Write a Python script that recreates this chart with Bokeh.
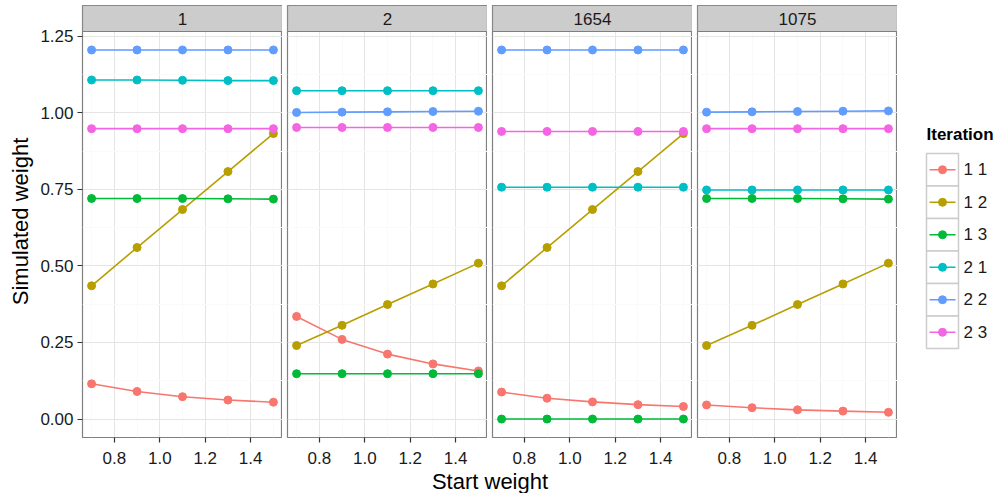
from bokeh.plotting import figure
from bokeh.layouts import row, column
from bokeh.models import Range1d, FixedTicker
from bokeh.embed import file_html
from bokeh.resources import INLINE
from bokeh.core.properties import value

# ---------------- data ----------------
facets = ["1", "2", "1654", "1075"]
start_weight = [0.7, 0.9, 1.1, 1.3, 1.5]
iterations = ["1 1", "1 2", "1 3", "2 1", "2 2", "2 3"]
colors = ["#F8766D", "#B79F00", "#00BA38", "#00BFC4", "#619CFF", "#F564E3"]

# facet "1"
f1_it11 = [0.115, 0.090, 0.073, 0.062, 0.055]
f1_it12 = [0.435, 0.560, 0.684, 0.808, 0.932]
f1_it13 = [0.720, 0.720, 0.720, 0.719, 0.718]
f1_it21 = [1.107, 1.107, 1.106, 1.105, 1.105]
f1_it22 = [1.205, 1.205, 1.205, 1.205, 1.205]
f1_it23 = [0.948, 0.948, 0.948, 0.948, 0.948]

# facet "2"
f2_it11 = [0.335, 0.260, 0.212, 0.180, 0.157]
f2_it12 = [0.240, 0.306, 0.374, 0.441, 0.509]
f2_it13 = [0.148, 0.148, 0.148, 0.148, 0.148]
f2_it21 = [1.072, 1.072, 1.072, 1.072, 1.072]
f2_it22 = [1.001, 1.002, 1.003, 1.004, 1.005]
f2_it23 = [0.952, 0.952, 0.952, 0.952, 0.952]

# facet "1654"
f3_it11 = [0.088, 0.068, 0.056, 0.047, 0.041]
f3_it12 = [0.435, 0.560, 0.684, 0.808, 0.932]
f3_it13 = [0.000, 0.000, 0.000, 0.000, 0.000]
f3_it21 = [0.757, 0.757, 0.757, 0.757, 0.757]
f3_it22 = [1.205, 1.205, 1.205, 1.205, 1.205]
f3_it23 = [0.939, 0.939, 0.939, 0.939, 0.939]

# facet "1075"
f4_it11 = [0.046, 0.037, 0.030, 0.026, 0.022]
f4_it12 = [0.240, 0.306, 0.374, 0.441, 0.509]
f4_it13 = [0.720, 0.720, 0.720, 0.719, 0.718]
f4_it21 = [0.748, 0.748, 0.748, 0.748, 0.748]
f4_it22 = [1.002, 1.003, 1.004, 1.005, 1.006]
f4_it23 = [0.948, 0.948, 0.948, 0.948, 0.948]

facet_series = [
    [f1_it11, f1_it12, f1_it13, f1_it21, f1_it22, f1_it23],
    [f2_it11, f2_it12, f2_it13, f2_it21, f2_it22, f2_it23],
    [f3_it11, f3_it12, f3_it13, f3_it21, f3_it22, f3_it23],
    [f4_it11, f4_it12, f4_it13, f4_it21, f4_it22, f4_it23],
]

x_ticks = [0.8, 1.0, 1.2, 1.4]
x_minor = [0.7, 0.9, 1.1, 1.3, 1.5]
x_tick_labels = {0.8: "0.8", 1.0: "1.0", 1.2: "1.2", 1.4: "1.4"}
y_ticks = [0.0, 0.25, 0.5, 0.75, 1.0, 1.25]
y_minor = [0.125, 0.375, 0.625, 0.875, 1.125]
y_tick_labels = {0.0: "0.00", 0.25: "0.25", 0.5: "0.50", 0.75: "0.75", 1.0: "1.00", 1.25: "1.25"}

# ---------------- style ----------------
FONT = "Liberation Sans"
BORDER = "#7F7F7F"
STRIP = "#CCCCCC"
GRID_MAJOR = "#E5E5E5"
GRID_MINOR = "#FAFAFA"
TEXT = "#1A1A1A"
FW, FH, SH = 200, 406, 26
GAP = 5
LEFT = 82
TOP = 5
BOTTOM = 36
TICK_FS = "17px"
TITLE_FS = "22px"

all_y = [v for s in facet_series for ser in s for v in ser]
ymin, ymax = min(all_y), max(all_y)
yspan = ymax - ymin
y_lo, y_hi = ymin - 0.05 * yspan, ymax + 0.05 * yspan
# extend the top so the strip occupies SH pixels above the data area
y_top = y_hi + (y_hi - y_lo) * SH / FH
xspan = max(start_weight) - min(start_weight)
x_lo, x_hi = min(start_weight) - 0.05 * xspan, max(start_weight) + 0.05 * xspan

figs = []
for k, name in enumerate(facets):
    lb = LEFT if k == 0 else GAP
    p = figure(frame_width=FW, frame_height=FH + SH, x_range=Range1d(x_lo, x_hi),
               y_range=Range1d(y_lo, y_top), output_backend="svg", toolbar_location=None,
               y_axis_location="left" if k == 0 else None,
               min_border_left=lb, min_border_right=0, min_border_top=TOP,
               min_border_bottom=BOTTOM)
    p.extra_x_ranges = {"px": Range1d(0, FW)}
    p.extra_y_ranges = {"py": Range1d(0, FH + SH)}
    p.background_fill_color = "white"
    p.border_fill_color = "white"
    p.outline_line_color = BORDER
    p.outline_line_width = 1.2
    p.xgrid.ticker = FixedTicker(ticks=x_ticks, minor_ticks=x_minor)
    p.ygrid.ticker = FixedTicker(ticks=y_ticks, minor_ticks=y_minor)
    p.grid.grid_line_color = GRID_MAJOR
    p.grid.grid_line_width = 1
    p.grid.minor_grid_line_color = GRID_MINOR
    p.grid.minor_grid_line_width = 1

    p.xaxis.ticker = FixedTicker(ticks=x_ticks)
    p.xaxis.major_label_overrides = x_tick_labels
    p.xaxis.axis_line_color = None
    p.xaxis.major_tick_out = 5
    p.xaxis.major_tick_in = 0
    p.xaxis.major_tick_line_color = "#333333"
    p.xaxis.major_tick_line_width = 1.2
    p.xaxis.minor_tick_line_color = None
    p.xaxis.major_label_text_font = FONT
    p.xaxis.major_label_text_font_size = TICK_FS
    p.xaxis.major_label_text_color = TEXT
    p.xaxis.major_label_standoff = 9
    if k == 0:
        p.yaxis.ticker = FixedTicker(ticks=y_ticks)
        p.yaxis.major_label_overrides = y_tick_labels
        p.yaxis.axis_line_color = None
        p.yaxis.major_tick_out = 5
        p.yaxis.major_tick_in = 0
        p.yaxis.major_tick_line_color = "#333333"
        p.yaxis.major_tick_line_width = 1.2
        p.yaxis.minor_tick_line_color = None
        p.yaxis.major_label_text_font = FONT
        p.yaxis.major_label_text_font_size = TICK_FS
        p.yaxis.major_label_text_color = TEXT
        p.yaxis.major_label_standoff = 4
        p.yaxis.axis_label = "Simulated weight"
        p.yaxis.axis_label_text_font = FONT
        p.yaxis.axis_label_text_font_size = TITLE_FS
        p.yaxis.axis_label_text_font_style = "normal"
        p.yaxis.axis_label_text_color = "#000000"
        p.yaxis.axis_label_standoff = 4

    for ser, col in zip(facet_series[k], colors):
        p.line(start_weight, ser, line_color=col, line_width=1.6)
        p.scatter(start_weight, ser, size=8, fill_color=col, line_color=col)

    # facet strip on top of the panel
    p.quad(left=[0], right=[FW], bottom=[FH], top=[FH + SH], x_range_name="px",
           y_range_name="py", fill_color=STRIP, line_color=BORDER, line_width=1.2)
    p.text(x=[FW / 2], y=[FH + SH / 2], text=[name], x_range_name="px", y_range_name="py",
           text_align="center", text_baseline="middle", text_font=value(FONT),
           text_font_size=TICK_FS, text_color=TEXT)
    figs.append(p)

# ---------------- legend (own figure) ----------------
LW = 996 - (LEFT + 4 * FW + 3 * GAP)
LH = TOP + FH + SH
lg = figure(frame_width=LW, frame_height=LH, x_range=Range1d(0, LW), y_range=Range1d(LH, 0),
            x_axis_location=None, y_axis_location=None, output_backend="svg",
            toolbar_location=None, min_border=0)
lg.grid.visible = False
lg.outline_line_color = None
lg.background_fill_color = "white"
lg.border_fill_color = "white"
x0 = LEFT + 4 * FW + 3 * GAP
key_left, key_w, key_h, key_top = 926 - x0, 32, 32.5, 148
lg.text(x=[key_left], y=[key_top - 19], text=["Iteration"], text_align="left",
        text_baseline="middle", text_font=value(FONT), text_font_size=TICK_FS,
        text_font_style="bold", text_color="#000000")
for i, (lab, col) in enumerate(zip(iterations, colors)):
    top = key_top + i * key_h
    cy = top + key_h / 2
    lg.quad(left=[key_left], right=[key_left + key_w], top=[top], bottom=[top + key_h],
            fill_color="white", line_color="#CCCCCC", line_width=1.5)
    lg.line([key_left + 3, key_left + key_w - 3], [cy, cy], line_color=col, line_width=1.6)
    lg.scatter([key_left + key_w / 2], [cy], size=8, fill_color=col, line_color=col)
    lg.text(x=[key_left + key_w + 5], y=[cy], text=[lab], text_align="left",
            text_baseline="middle", text_font=value(FONT), text_font_size=TICK_FS,
            text_color=TEXT)

top_row = row(*figs, lg, spacing=0)

# ---------------- x-axis title (transparent strip, pulled up slightly) ----------------
TOTW = 996
XH = 34
PULL = 14
xl = figure(frame_width=TOTW, frame_height=XH, x_range=Range1d(0, TOTW), y_range=Range1d(XH, 0),
            x_axis_location=None, y_axis_location=None, output_backend="svg",
            toolbar_location=None, min_border=0, margin=(-PULL, 0, 0, 0))
xl.grid.visible = False
xl.outline_line_color = None
xl.background_fill_alpha = 0
xl.border_fill_alpha = 0
xl.text(x=[LEFT + (4 * FW + 3 * GAP) / 2], y=[8 + PULL], text=["Start weight"],
        text_align="center", text_baseline="middle", text_font=value(FONT),
        text_font_size=TITLE_FS, text_color="#000000")

layout = column(top_row, xl, spacing=0)

open("out.html", "w").write(file_html(layout, INLINE))
